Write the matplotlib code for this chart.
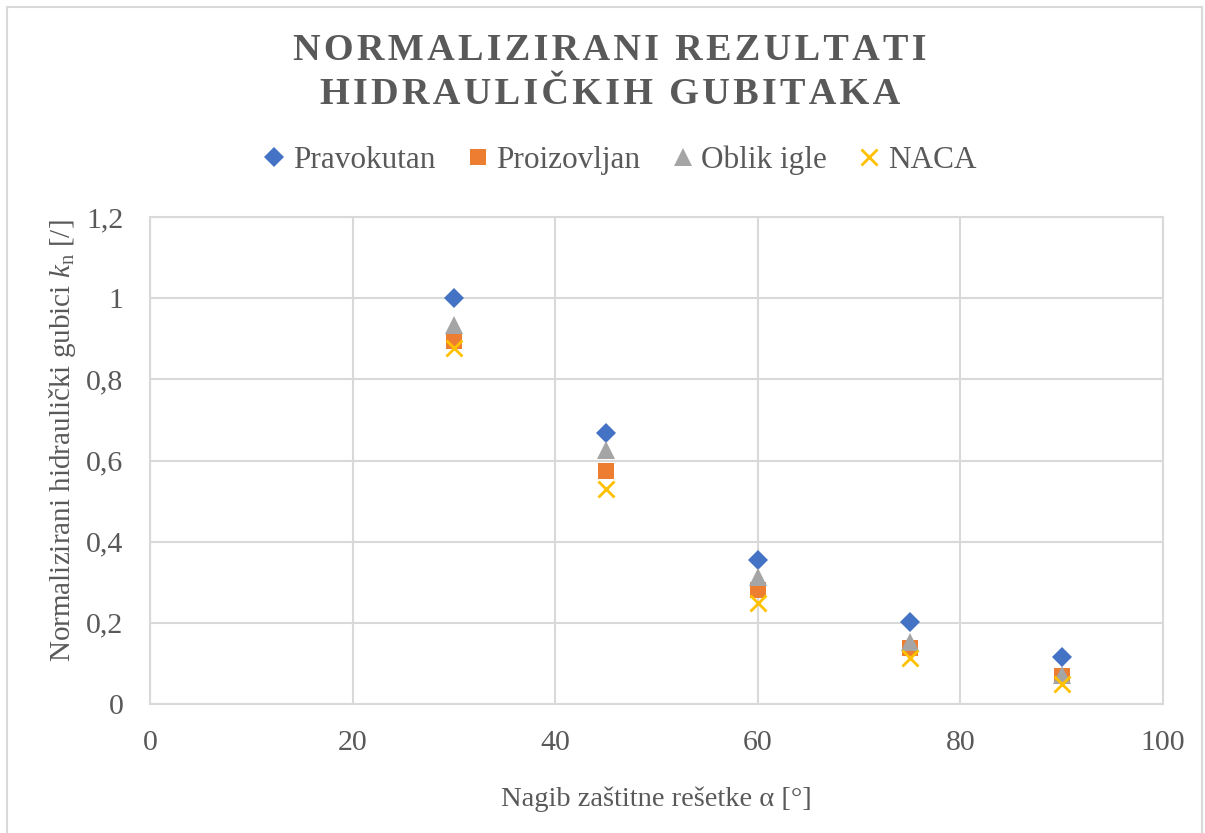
"""Normalised hydraulic loss results, scatter of four grate profiles."""

import matplotlib
matplotlib.use("Agg")
import matplotlib.pyplot as plt
from matplotlib.patches import Rectangle

plt.rcParams['font.family'] = ['Liberation Serif', 'DejaVu Serif']
plt.rcParams['mathtext.fontset'] = 'custom'
plt.rcParams['mathtext.rm'] = 'Liberation Serif'
plt.rcParams['mathtext.it'] = 'Liberation Serif:italic'

# data
angles = [30, 45, 60, 75, 90]
pravokutan = [1.000, 0.668, 0.354, 0.202, 0.117]
proizovljan = [0.894, 0.573, 0.282, 0.139, 0.070]
oblik_igle = [0.934, 0.627, 0.314, 0.154, 0.071]
naca = [0.876, 0.530, 0.249, 0.113, 0.049]

x_ticks = [0, 20, 40, 60, 80, 100]
y_ticks = [0, 0.2, 0.4, 0.6, 0.8, 1.0, 1.2]
y_tick_labels = ["0", "0,2", "0,4", "0,6", "0,8", "1", "1,2"]

title_lines = ["NORMALIZIRANI REZULTATI", "HIDRAULIČKIH GUBITAKA"]

txt_col = "#595959"
grid_col = "#d9d9d9"
W, H = 1205, 833


def spaced(s, sp="\u200a"):
    """Poor man's letter spacing"""
    return sp.join(s)


fig = plt.figure(figsize=(W / 100, H / 100), dpi=100)
ax = fig.add_axes([150 / W, 1 - 704 / H, (1163 - 150) / W, (704 - 217) / H])

ax.plot(angles, pravokutan, "D", color="#4472C4", ms=10, mew=0, label="Pravokutan")
ax.plot(angles, proizovljan, "s", color="#ED7D31", ms=12, mew=0, label="Proizovljan")
ax.plot(angles, oblik_igle, "^", color="#A5A5A5", ms=13, mew=0, label="Oblik igle")
ax.plot(angles, naca, "x", color="#FFC000", ms=11, mew=2, label="NACA")

ax.set_xlim(0, 100)
ax.set_ylim(0, 1.2)
ax.set_xticks(x_ticks)
ax.set_yticks(y_ticks)
ax.set_yticklabels(y_tick_labels)
ax.grid(True, color=grid_col, lw=1.5)
ax.set_axisbelow(True)
for s in ax.spines.values():
    s.set_color(grid_col)
    s.set_linewidth(1.5)
ax.tick_params(length=0, labelsize=21.5, colors=txt_col)
ax.tick_params(axis="x", pad=19)
ax.tick_params(axis="y", pad=19)

ax.set_xlabel("Nagib zaštitne rešetke α [°]", fontsize=20.5, color=txt_col, labelpad=22)
ax.set_ylabel(r"Normalizirani hidraulički gubici $\mathit{k}_\mathrm{n}$ [/]",
              fontsize=21, color=txt_col)
ax.yaxis.set_label_coords(-0.071, 0.54)

### Title and legend
for i, line in enumerate(title_lines):
    fig.text(610 / W, 1 - (51 + 44 * i) / H, spaced(line), ha="center", va="center",
             fontsize=27.5, fontweight="bold", color=txt_col)
leg = fig.legend(loc="center", bbox_to_anchor=(616 / W, 1 - 160 / H), ncol=4,
                 frameon=False, fontsize=22.5, handletextpad=0.0,
                 columnspacing=0.75, handlelength=1.2, labelcolor=txt_col)

### Chart border
fig.patches.append(Rectangle((7 / W, -0.01), (W - 10) / W, 1 - 7 / H + 0.01,
                             transform=fig.transFigure, fill=False,
                             ec=grid_col, lw=1.5))

fig.savefig("out.png", dpi=100)
